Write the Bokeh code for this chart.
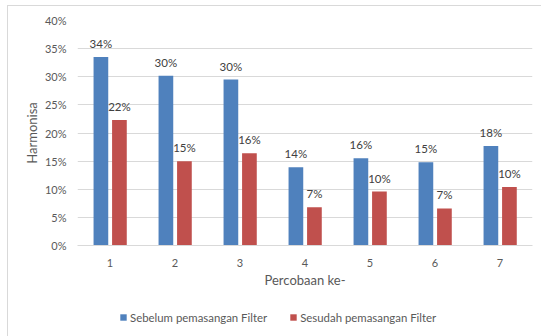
from bokeh.plotting import figure
from bokeh.layouts import column
from bokeh.models import (ColumnDataSource, FactorRange, Legend, LegendItem,
                          PrintfTickFormatter, FixedTicker, Range1d)
from bokeh.transform import dodge
from bokeh.embed import file_html
from bokeh.resources import INLINE

# ---- data ----
categories = ["1", "2", "3", "4", "5", "6", "7"]
sebelum = [33.5, 30.2, 29.5, 13.9, 15.5, 14.8, 17.7]
sesudah = [22.3, 15.0, 16.4, 6.8, 9.6, 6.6, 10.4]
series_names = ["Sebelum pemasangan Filter", "Sesudah pemasangan Filter"]
y_ticks = [0, 5, 10, 15, 20, 25, 30, 35, 40]
x_title = "Percobaan ke-"
y_title = "Harmonisa"

FONT = "Lato"
BLUE = "#4F81BD"
RED = "#C0504D"
GRID = "#D9D9D9"
TXT = "#595959"
LINE = "linear-gradient(#D9D9D9,#D9D9D9)"

def lab(v):
    return f"{int(v + 0.5)}%"

src = ColumnDataSource(dict(
    cat=categories,
    a=sebelum, b=sesudah,
    la=[lab(v) for v in sebelum],
    lb=[lab(v) for v in sesudah],
))

p = figure(width=541, height=300,
           x_range=FactorRange(*categories, range_padding=0),
           y_range=Range1d(0, 40), output_backend="svg", toolbar_location=None,
           min_border_left=77, min_border_right=9, min_border_top=20, min_border_bottom=55,
           styles={"background": f"{LINE} 7px 5px / 1px 100% no-repeat, "
                                 f"{LINE} 7px 5px / 100% 1px no-repeat, white"})
p.outline_line_color = None
p.background_fill_alpha = 0
p.border_fill_alpha = 0

r1 = p.vbar(x=dodge("cat", -0.14, range=p.x_range), top="a", width=0.226, source=src,
            fill_color=BLUE, line_color=None)
r2 = p.vbar(x=dodge("cat", 0.145, range=p.x_range), top="b", width=0.226, source=src,
            fill_color=RED, line_color=None)

p.text(x=dodge("cat", -0.14, range=p.x_range), y="a", text="la", source=src,
       text_align="center", text_baseline="bottom", y_offset=-7,
       text_font_size="11.5px", text_color="#404040", text_font={"value": FONT})
p.text(x=dodge("cat", 0.145, range=p.x_range), y="b", text="lb", source=src,
       text_align="center", text_baseline="bottom", y_offset=-7,
       text_font_size="11.5px", text_color="#404040", text_font={"value": FONT})

# axes
p.yaxis.ticker = FixedTicker(ticks=y_ticks)
p.yaxis.formatter = PrintfTickFormatter(format="%d%%")
p.yaxis.axis_line_color = None
p.yaxis.major_tick_line_color = None
p.yaxis.minor_tick_line_color = None
p.yaxis.major_tick_in = 0
p.yaxis.major_tick_out = 0
p.yaxis.major_label_standoff = 11
p.yaxis.axis_label = y_title
p.yaxis.axis_label_standoff = 2

p.xaxis.axis_line_color = GRID
p.xaxis.major_tick_line_color = None
p.xaxis.minor_tick_line_color = None
p.xaxis.major_tick_in = 0
p.xaxis.major_tick_out = 0
p.xaxis.major_label_standoff = 13
p.xaxis.axis_label = x_title
p.xaxis.axis_label_standoff = 2

for ax in (p.xaxis[0], p.yaxis[0]):
    ax.major_label_text_font = FONT
    ax.major_label_text_font_size = "11px"
    ax.major_label_text_color = TXT
    ax.axis_label_text_font = FONT
    ax.axis_label_text_font_size = "13px"
    ax.axis_label_text_font_style = "normal"
    ax.axis_label_text_color = TXT

p.xgrid.grid_line_color = None
p.ygrid.grid_line_color = GRID
p.ygrid.ticker = FixedTicker(ticks=y_ticks)

# legend strip (separate figure so the legend is not clipped)
lf = figure(width=541, height=36, output_backend="svg", toolbar_location=None,
            x_axis_type=None, y_axis_type=None, min_border=0,
            x_range=Range1d(0, 1), y_range=Range1d(0, 1),
            styles={"background": f"{LINE} 7px 0px / 1px 100% no-repeat, white"})
lf.outline_line_color = None
lf.grid.visible = False
lf.background_fill_alpha = 0
lf.border_fill_alpha = 0
nan = float("nan")
lr1 = lf.vbar(x=[nan], top=[nan], width=0.1, fill_color=BLUE, line_color=None)
lr2 = lf.vbar(x=[nan], top=[nan], width=0.1, fill_color=RED, line_color=None)

legend = Legend(items=[LegendItem(label=series_names[0], renderers=[lr1]),
                       LegendItem(label=series_names[1], renderers=[lr2])],
                orientation="horizontal", location=(42, 12),
                label_text_font=FONT, label_text_font_size="11.4px", label_text_color=TXT,
                glyph_width=8, glyph_height=8, label_standoff=3, spacing=22,
                label_height=14, padding=0, margin=0,
                border_line_color=None, background_fill_alpha=0)
lf.add_layout(legend)

layout = column(p, lf, spacing=0)
open("out.html", "w").write(file_html(layout, INLINE))
